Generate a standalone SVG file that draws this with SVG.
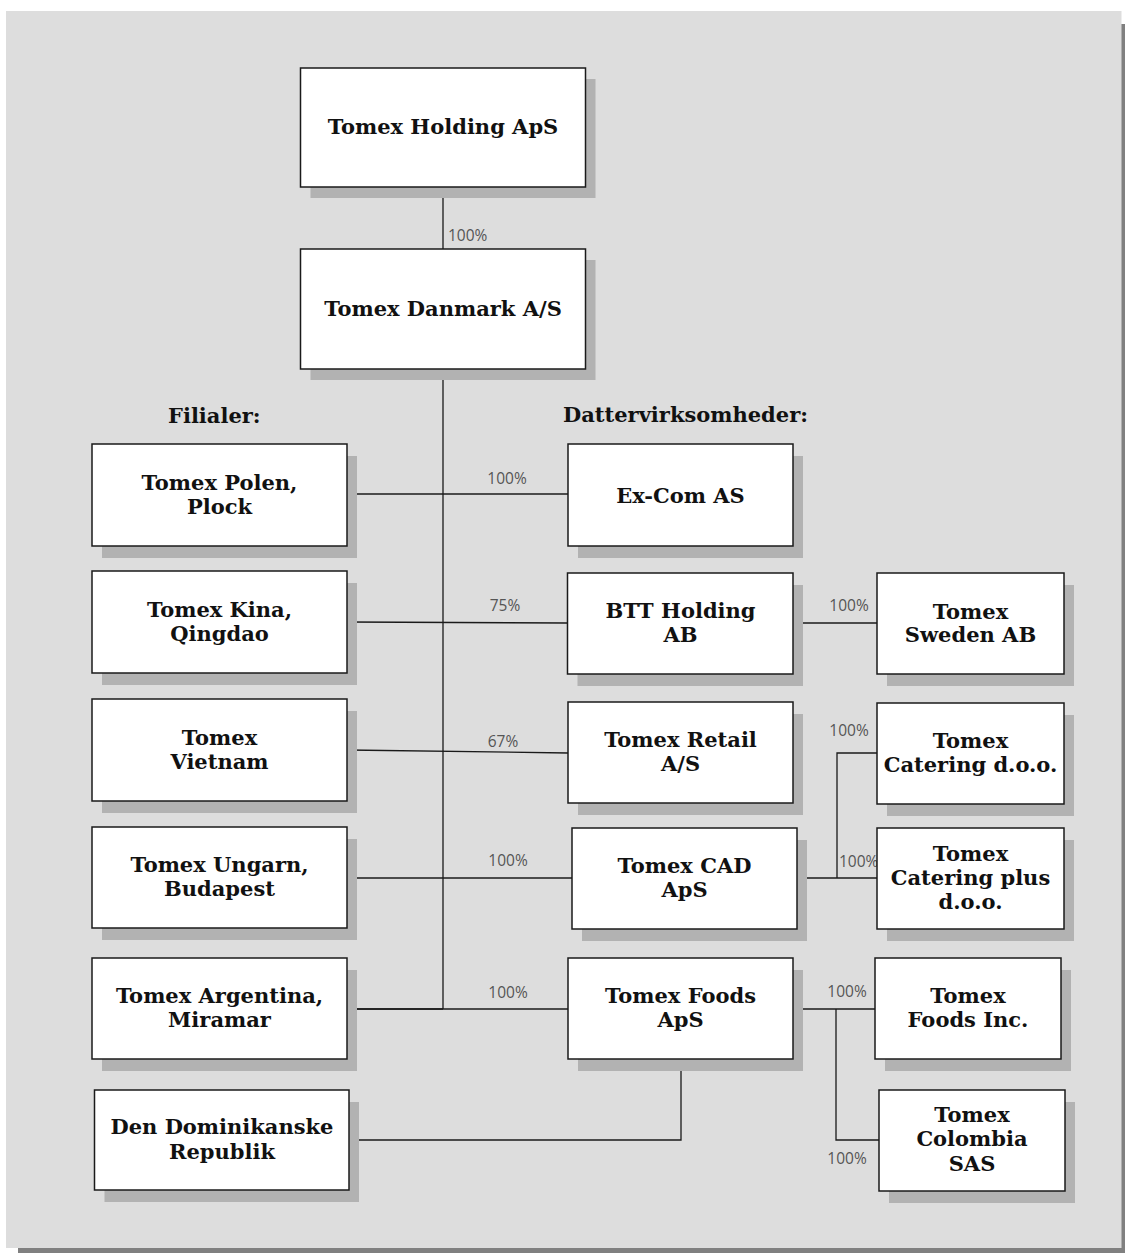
<svg xmlns="http://www.w3.org/2000/svg" width="1125" height="1253" viewBox="0 0 1125 1253">
<defs>
<style>
.shadow{fill:#b2b2b2}
.box{fill:#ffffff;stroke:#1a1a1a;stroke-width:1.5}
.t{font-family:"DejaVu Serif","Liberation Serif",serif;font-weight:bold;font-size:21px;fill:#111;text-anchor:middle}
.h{font-family:"DejaVu Serif","Liberation Serif",serif;font-weight:bold;font-size:21px;fill:#111}
.pct{font-family:"Open Sans","Noto Sans",sans-serif;font-size:15.5px;fill:#555;text-anchor:middle}
.ln{fill:none;stroke:#1a1a1a;stroke-width:1.3}
</style>
</defs>
<rect x="0" y="0" width="1125" height="1253" fill="#ffffff"/>
<rect x="18" y="24" width="1115" height="1240" fill="#808080"/>
<rect x="6" y="11" width="1115.5" height="1237" fill="#dddddd"/>

<g id="connectors">
<path class="ln" d="M443,187 V249"/>
<path class="ln" d="M443,368 V1009"/>
<path class="ln" d="M347,494 H568"/>
<path class="ln" d="M347,622 L567,623"/>
<path class="ln" d="M347,750 L568,753"/>
<path class="ln" d="M347,878 H572"/>
<path class="ln" d="M347,1009 H568"/>
<path class="ln" d="M347,1009 H443" stroke-width="2"/>
<path class="ln" d="M793,623 H877"/>
<path class="ln" d="M797,878 H877"/>
<path class="ln" d="M837,878 V753 H877"/>
<path class="ln" d="M793,1009 H875"/>
<path class="ln" d="M836,1009 V1140 H879"/>
<path class="ln" d="M681,1059 V1140 H349"/>
<text class="pct" x="448" y="241" style="text-anchor:start">100%</text>
<text class="pct" x="507" y="484">100%</text>
<text class="pct" x="505" y="611">75%</text>
<text class="pct" x="503" y="747">67%</text>
<text class="pct" x="508" y="866">100%</text>
<text class="pct" x="508" y="998">100%</text>
<text class="pct" x="849" y="611">100%</text>
<text class="pct" x="849" y="736">100%</text>
<text class="pct" x="839" y="867" style="text-anchor:start">100%</text>
<text class="pct" x="847" y="997">100%</text>
<text class="pct" x="847" y="1164">100%</text>
</g>

<text class="h" x="168" y="423">Filialer:</text>
<text class="h" x="563" y="422">Dattervirksomheder:</text>

<g id="holding">
<rect class="shadow" x="310.5" y="79" width="285" height="119"/>
<rect class="box" x="300.5" y="68" width="285" height="119"/>
<text class="t" x="443" y="134">Tomex Holding ApS</text>
</g>
<g id="danmark">
<rect class="shadow" x="310.5" y="260" width="285" height="120"/>
<rect class="box" x="300.5" y="249" width="285" height="120"/>
<text class="t" x="443" y="316">Tomex Danmark A/S</text>
</g>

<g id="polen">
<rect class="shadow" x="102" y="456" width="255" height="102"/>
<rect class="box" x="92" y="444" width="255" height="102"/>
<text class="t" x="219.5" y="490">Tomex Polen,</text>
<text class="t" x="219.5" y="514">Plock</text>
</g>
<g id="kina">
<rect class="shadow" x="102" y="583" width="255" height="102"/>
<rect class="box" x="92" y="571" width="255" height="102"/>
<text class="t" x="219.5" y="617">Tomex Kina,</text>
<text class="t" x="219.5" y="641">Qingdao</text>
</g>
<g id="vietnam">
<rect class="shadow" x="102" y="711" width="255" height="102"/>
<rect class="box" x="92" y="699" width="255" height="102"/>
<text class="t" x="219.5" y="745">Tomex</text>
<text class="t" x="219.5" y="769">Vietnam</text>
</g>
<g id="ungarn">
<rect class="shadow" x="102" y="839" width="255" height="101"/>
<rect class="box" x="92" y="827" width="255" height="101"/>
<text class="t" x="219.5" y="872">Tomex Ungarn,</text>
<text class="t" x="219.5" y="896">Budapest</text>
</g>
<g id="argentina">
<rect class="shadow" x="102" y="970" width="255" height="101"/>
<rect class="box" x="92" y="958" width="255" height="101"/>
<text class="t" x="219.5" y="1003">Tomex Argentina,</text>
<text class="t" x="219.5" y="1027">Miramar</text>
</g>
<g id="dominikanske">
<rect class="shadow" x="104.5" y="1102" width="254.5" height="100"/>
<rect class="box" x="94.5" y="1090" width="254.5" height="100"/>
<text class="t" x="222" y="1134">Den Dominikanske</text>
<text class="t" x="222" y="1159">Republik</text>
</g>

<g id="excom">
<rect class="shadow" x="578" y="456" width="225" height="102"/>
<rect class="box" x="568" y="444" width="225" height="102"/>
<text class="t" x="680.5" y="503">Ex-Com AS</text>
</g>
<g id="btt">
<rect class="shadow" x="577.5" y="585" width="225.5" height="101"/>
<rect class="box" x="567.5" y="573" width="225.5" height="101"/>
<text class="t" x="680.5" y="618">BTT Holding</text>
<text class="t" x="680.5" y="642">AB</text>
</g>
<g id="retail">
<rect class="shadow" x="578" y="714" width="225" height="101"/>
<rect class="box" x="568" y="702" width="225" height="101"/>
<text class="t" x="680.5" y="747">Tomex Retail</text>
<text class="t" x="680.5" y="771">A/S</text>
</g>
<g id="cad">
<rect class="shadow" x="582" y="840" width="225" height="101"/>
<rect class="box" x="572" y="828" width="225" height="101"/>
<text class="t" x="684.5" y="873">Tomex CAD</text>
<text class="t" x="684.5" y="897">ApS</text>
</g>
<g id="foods">
<rect class="shadow" x="578" y="970" width="225" height="101"/>
<rect class="box" x="568" y="958" width="225" height="101"/>
<text class="t" x="680.5" y="1003">Tomex Foods</text>
<text class="t" x="680.5" y="1027">ApS</text>
</g>

<g id="sweden">
<rect class="shadow" x="887" y="585" width="187" height="101"/>
<rect class="box" x="877" y="573" width="187" height="101"/>
<text class="t" x="970.5" y="619">Tomex</text>
<text class="t" x="970.5" y="642">Sweden AB</text>
</g>
<g id="catering">
<rect class="shadow" x="887" y="715" width="187" height="101"/>
<rect class="box" x="877" y="703" width="187" height="101"/>
<text class="t" x="970.5" y="748">Tomex</text>
<text class="t" x="970.5" y="772">Catering d.o.o.</text>
</g>
<g id="cateringplus">
<rect class="shadow" x="887" y="840" width="187" height="101"/>
<rect class="box" x="877" y="828" width="187" height="101"/>
<text class="t" x="970.5" y="861">Tomex</text>
<text class="t" x="970.5" y="885">Catering plus</text>
<text class="t" x="970.5" y="909">d.o.o.</text>
</g>
<g id="foodsinc">
<rect class="shadow" x="885" y="970" width="186" height="101"/>
<rect class="box" x="875" y="958" width="186" height="101"/>
<text class="t" x="968" y="1003">Tomex</text>
<text class="t" x="968" y="1027">Foods Inc.</text>
</g>
<g id="colombia">
<rect class="shadow" x="889" y="1102" width="186" height="101"/>
<rect class="box" x="879" y="1090" width="186" height="101"/>
<text class="t" x="972" y="1122">Tomex</text>
<text class="t" x="972" y="1146">Colombia</text>
<text class="t" x="972" y="1171">SAS</text>
</g>
</svg>
